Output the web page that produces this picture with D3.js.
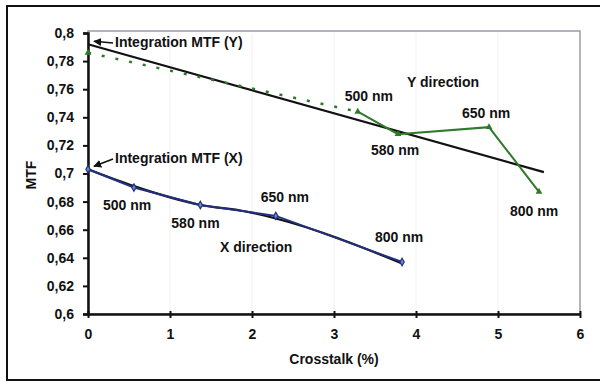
<!DOCTYPE html>
<html>
<head>
<meta charset="utf-8">
<script src="https://cdn.jsdelivr.net/npm/d3@7"></script>
<style>
  body { margin: 0; background: #fff; }
  svg text { font-family: "Liberation Sans", Arial, sans-serif; font-weight: bold; fill: #111; }
</style>
</head>
<body>
<svg id="chart" width="600" height="382"></svg>
<script>
// wavelengths labelled on both curves
const wavelengths = ["500 nm", "580 nm", "650 nm", "800 nm"];

// Y direction: integration point first, then 500/580/650/800 nm
const yCrosstalk = [0, 3.29, 3.78, 4.89, 5.5];
const yMtf = [0.786, 0.744, 0.728, 0.733, 0.687];
const yTrendX = [0, 5.56];
const yTrendY = [0.792, 0.701];

// X direction
const xCrosstalk = [0, 0.56, 1.37, 2.29, 3.83];
const xMtf = [0.703, 0.69, 0.6776, 0.6698, 0.637];
const xTrendX = [0, 0.56, 1.37, 1.91, 2.29, 3.83];
const xTrendY = [0.703, 0.691, 0.6776, 0.6731, 0.668, 0.636];

const xTicks = [0, 1, 2, 3, 4, 5, 6];
const yTicks = [0.6, 0.62, 0.64, 0.66, 0.68, 0.7, 0.72, 0.74, 0.76, 0.78, 0.8];

const svg = d3.select("#chart");

// outer frame
svg.append("rect")
  .attr("x", 7).attr("y", 6)
  .attr("width", 600).attr("height", 374)
  .attr("fill", "none")
  .attr("stroke", "#111")
  .attr("stroke-width", 2);

const x = d3.scaleLinear().domain([0, 6]).range([88, 580]);
const y = d3.scaleLinear().domain([0.6, 0.8]).range([314, 33]);

// plot area border
svg.append("rect")
  .attr("x", x(0)).attr("y", y(0.8) - 2)
  .attr("width", x(6) - x(0)).attr("height", y(0.6) - y(0.8) + 2)
  .attr("fill", "none")
  .attr("stroke", "#9a9aa8")
  .attr("stroke-width", 1.5);

// faint grid
svg.append("g")
  .selectAll("line")
  .data(xTicks.slice(1, -1))
  .join("line")
  .attr("x1", (d) => x(d)).attr("x2", (d) => x(d))
  .attr("y1", y(0.8)).attr("y2", y(0.6))
  .attr("stroke", "#f0f0f0");

// axes
const fmt = (d) => d3.format("~g")(d).replace(".", ",");

const yAxis = svg.append("g")
  .attr("transform", `translate(${x(0)},0)`)
  .call(d3.axisLeft(y).tickValues(yTicks).tickFormat(fmt).tickSize(5).tickPadding(9));
yAxis.select(".domain").attr("stroke", "#111").attr("stroke-width", 2.5);
yAxis.selectAll(".tick line").attr("stroke", "#111").attr("stroke-width", 2);
yAxis.selectAll("text").style("font-size", "14px").attr("fill", "#111");

const xAxis = svg.append("g")
  .attr("transform", `translate(0,${y(0.6)})`)
  .call(d3.axisBottom(x).tickValues(xTicks).tickFormat(fmt).tickSizeInner(4).tickSizeOuter(0).tickPadding(11));
xAxis.select(".domain").attr("stroke", "#111").attr("stroke-width", 2.5);
xAxis.selectAll(".tick line").attr("stroke", "#111").attr("stroke-width", 2).attr("y1", -3);
xAxis.selectAll("text").style("font-size", "14px").attr("fill", "#111");

// axis titles
svg.append("text")
  .attr("x", x(3)).attr("y", 364)
  .attr("text-anchor", "middle")
  .style("font-size", "14px")
  .text("Crosstalk (%)");

svg.append("text")
  .attr("transform", "translate(36,175) rotate(-90)")
  .attr("text-anchor", "middle")
  .style("font-size", "14px")
  .text("MTF");

const line = d3.line().x((d) => x(d[0])).y((d) => y(d[1]));

// Y trend line
svg.append("path")
  .attr("d", line(d3.zip(yTrendX, yTrendY)))
  .attr("fill", "none").attr("stroke", "#111").attr("stroke-width", 2.2);

// Y direction curve
const yPts = d3.zip(yCrosstalk, yMtf);
const green = "#2f7a2a";
svg.append("path")
  .attr("d", line(yPts.slice(0, 2)))
  .attr("fill", "none").attr("stroke", green)
  .attr("stroke-width", 2.5).attr("stroke-dasharray", "3,11");
svg.append("path")
  .attr("d", line(yPts.slice(1)))
  .attr("fill", "none").attr("stroke", green).attr("stroke-width", 2);
svg.append("g")
  .selectAll("path")
  .data(yPts)
  .join("path")
  .attr("transform", (d) => `translate(${x(d[0])},${y(d[1])})`)
  .attr("d", d3.symbol(d3.symbolTriangle, 20))
  .attr("fill", green);

// X trend (curved)
svg.append("path")
  .attr("d", d3.line().curve(d3.curveMonotoneX).x((d) => x(d[0])).y((d) => y(d[1]))(d3.zip(xTrendX, xTrendY)))
  .attr("fill", "none").attr("stroke", "#111").attr("stroke-width", 2.2);

// X direction curve
const xPts = d3.zip(xCrosstalk, xMtf);
const blue = "#24307e";
svg.append("path")
  .attr("d", line(xPts))
  .attr("fill", "none").attr("stroke", blue).attr("stroke-width", 2);
svg.append("g")
  .selectAll("path")
  .data(xPts)
  .join("path")
  .attr("transform", (d) => `translate(${x(d[0])},${y(d[1])})`)
  .attr("d", d3.symbol(d3.symbolDiamond, 16))
  .attr("fill", "#6a8ad0").attr("stroke", blue).attr("stroke-width", 1.2);

// arrows to integration points
svg.append("defs").append("marker")
  .attr("id", "arrow")
  .attr("viewBox", "0 0 10 10")
  .attr("refX", 9).attr("refY", 5)
  .attr("markerWidth", 5).attr("markerHeight", 5)
  .attr("orient", "auto")
  .append("path").attr("d", "M0,0L10,5L0,10z").attr("fill", "#111");

function callout(label, px, py, ptX, ptY) {
  svg.append("line")
    .attr("x1", px - 2).attr("y1", py - 4)
    .attr("x2", x(ptX) + 6).attr("y2", y(ptY) - 3)
    .attr("stroke", "#111").attr("stroke-width", 1.6)
    .attr("marker-end", "url(#arrow)");
  svg.append("text")
    .attr("x", px).attr("y", py)
    .style("font-size", "14px")
    .text(label);
}
callout("Integration MTF (Y)", 115, 47, yTrendX[0], yTrendY[0]);
callout("Integration MTF (X)", 115, 163, xCrosstalk[0], xMtf[0]);

// wavelength labels, offset from each point
const yLabelOffsets = [[-13, -11], [-27, 21], [-27, -9], [-29, 24]];
const xLabelOffsets = [[-31, 22], [-29, 23], [-15, -14], [-27, -20]];

svg.append("g")
  .selectAll("text")
  .data(wavelengths)
  .join("text")
  .attr("x", (d, i) => x(yCrosstalk[i + 1]) + yLabelOffsets[i][0])
  .attr("y", (d, i) => y(yMtf[i + 1]) + yLabelOffsets[i][1])
  .style("font-size", "14px")
  .text((d) => d);

svg.append("g")
  .selectAll("text")
  .data(wavelengths)
  .join("text")
  .attr("x", (d, i) => x(xCrosstalk[i + 1]) + xLabelOffsets[i][0])
  .attr("y", (d, i) => y(xMtf[i + 1]) + xLabelOffsets[i][1])
  .style("font-size", "14px")
  .text((d) => d);

svg.append("text")
  .attr("x", 407).attr("y", 87)
  .style("font-size", "14px")
  .text("Y direction");

svg.append("text")
  .attr("x", 220).attr("y", 252)
  .style("font-size", "14px")
  .text("X direction");
</script>
</body>
</html>
